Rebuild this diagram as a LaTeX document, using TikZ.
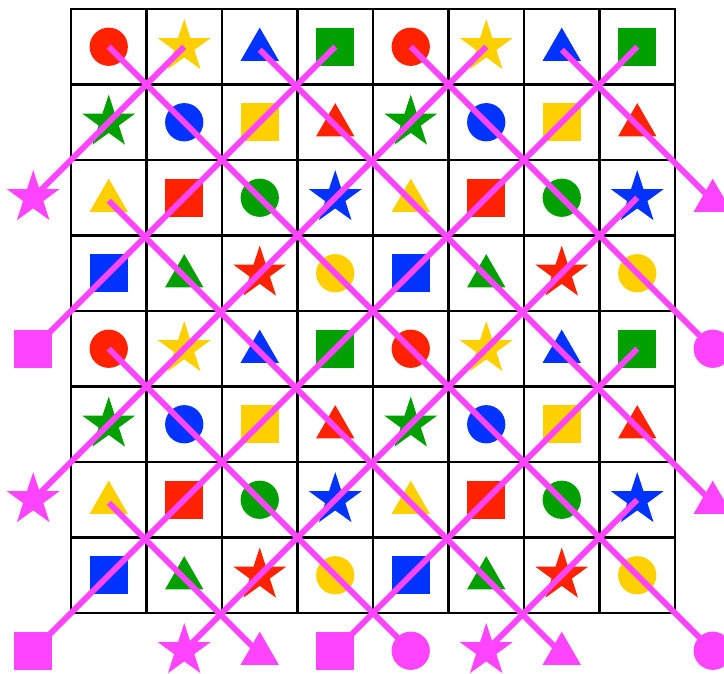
\documentclass[tikz,border=0pt]{standalone}
\usepackage{tikz}
\usetikzlibrary{shapes.geometric}
\definecolor{pRed}{HTML}{FF2200}
\definecolor{pYel}{HTML}{FFD000}
\definecolor{pBlu}{HTML}{0033FF}
\definecolor{pGrn}{HTML}{00A000}
\definecolor{pMag}{HTML}{FF44FF}

\begin{document}
\begin{tikzpicture}[x=1.5cm, y=1.5cm,
  shp/.style={draw=none, inner sep=0pt, outer sep=0pt},
  ci/.style={shp, circle, minimum size=0.76cm},
  sq/.style={shp, rectangle, minimum size=0.76cm},
  tr/.style={shp, regular polygon, regular polygon sides=3, minimum size=0.88cm, yshift=-0.06cm},
  st/.style={shp, star, star points=5, star point ratio=2.6, minimum size=1.1cm},
  ln/.style={pMag, line width=3.3pt}]
  \useasboundingbox (-0.940,0.119) rectangle (8.649,-8.795);
  % the 8x8 board
  \draw[line width=1.4pt, step=1.5cm] (0,0) grid (8,-8) (0,0) rectangle (8,-8);
  % one 4x4 block of pieces, repeated four times
  \foreach \dr in {0,4}{\foreach \dc in {0,4}{
    \foreach \r/\c/\s/\f in {1/1/ci/pRed, 1/2/st/pYel, 1/3/tr/pBlu, 1/4/sq/pGrn,
                            2/1/st/pGrn, 2/2/ci/pBlu, 2/3/sq/pYel, 2/4/tr/pRed,
                            3/1/tr/pYel, 3/2/sq/pRed, 3/3/ci/pGrn, 3/4/st/pBlu,
                            4/1/sq/pBlu, 4/2/tr/pGrn, 4/3/st/pRed, 4/4/ci/pYel}{
      \pgfmathtruncatemacro{\rr}{\r+\dr}
      \pgfmathtruncatemacro{\cc}{\c+\dc}
      \node[\s, fill=\f] (c\rr-\cc) at (\cc-0.5,0.5-\rr) {};
    }}}
  % magenta end marks round the board
  \foreach \n/\s/\x/\y in {l3/st/0/3, l5/sq/0/5, l7/st/0/7, l9/sq/0/9,
                          b2/st/2/9, b3/tr/3/9, b4/sq/4/9, b5/ci/5/9, b6/st/6/9, b7/tr/7/9,
                          r3/tr/9/3, r5/ci/9/5, r7/tr/9/7, r9/ci/9/9}
    \node[\s, fill=pMag] (\n) at (\x-0.5,0.5-\y) {};
  % diagonals through pieces of one shape
  \foreach \a/\b in {c1-2/l3, c1-4/l5, c1-6/l7, c1-8/l9, c3-8/b2, c5-8/b4, c7-8/b6,
                     c1-1/r9, c1-3/r7, c1-5/r5, c1-7/r3, c3-1/b7, c5-1/b5, c7-1/b3}
    \draw[ln] (\a.center) -- (\b.center);
\end{tikzpicture}
\end{document}
